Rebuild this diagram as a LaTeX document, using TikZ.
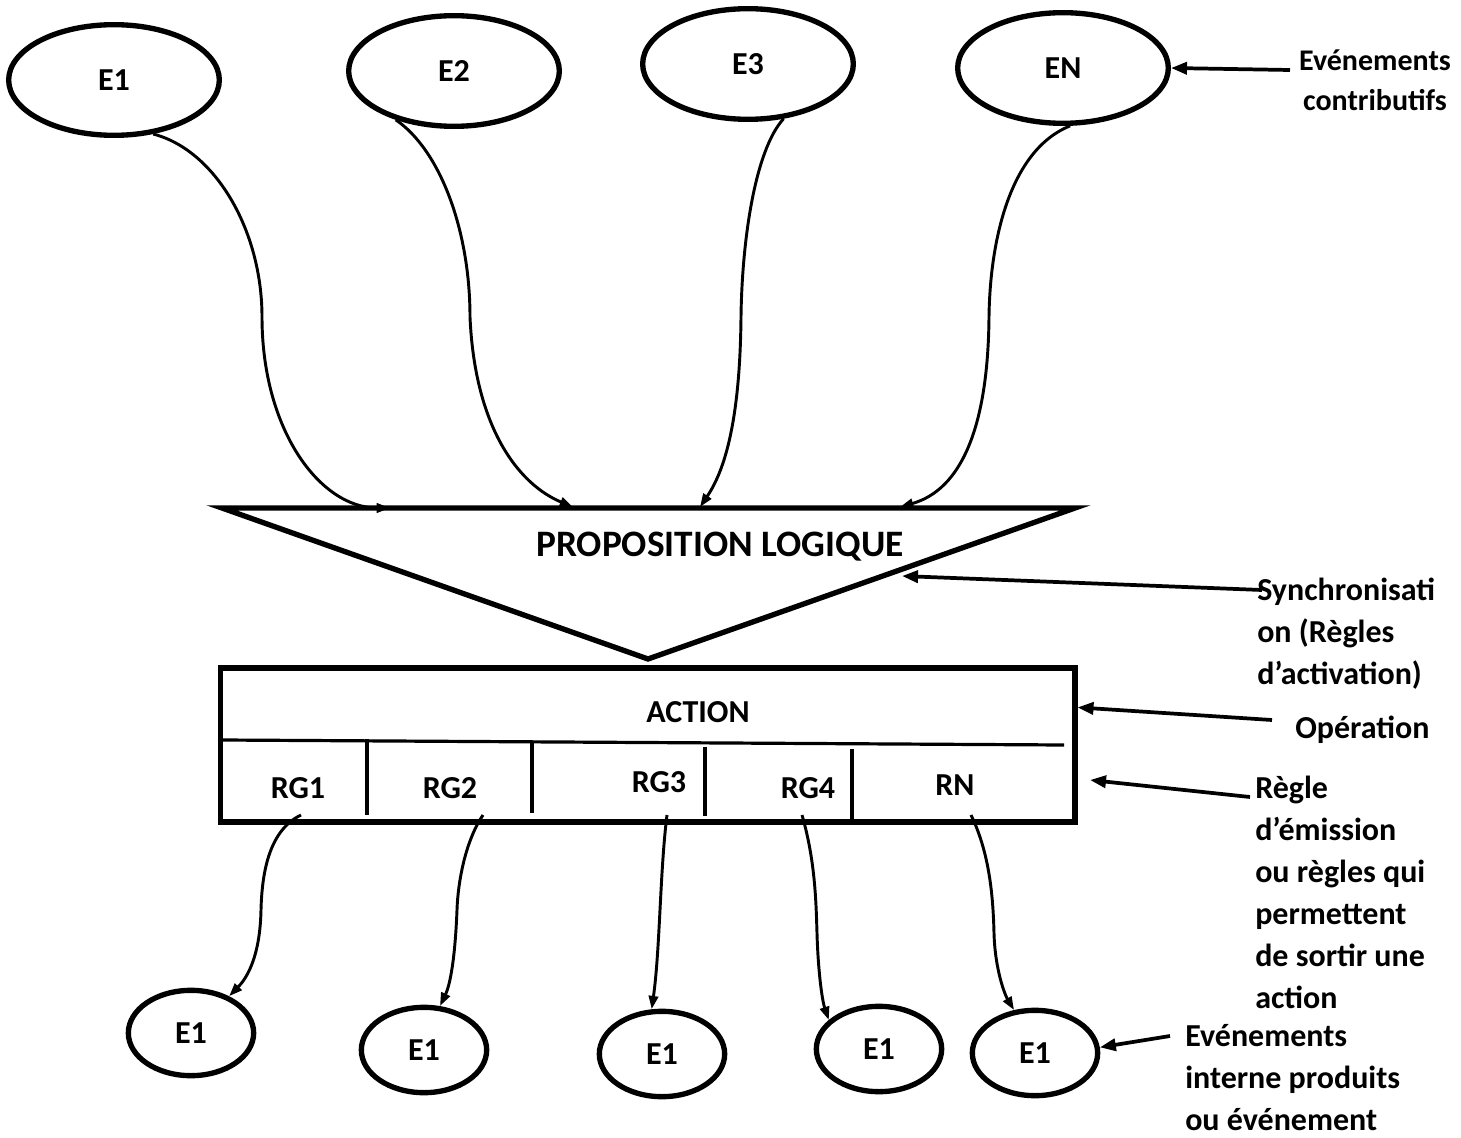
\documentclass[tikz,border=0pt]{standalone}
\usepackage{fontspec}
\setmainfont{Carlito}
\usetikzlibrary{shapes.geometric,arrows.meta,positioning}
\tikzset{
  evt/.style={ellipse,draw,line width=4pt,inner sep=0pt,minimum width=158pt,minimum height=83pt},
  evtout/.style={ellipse,draw,line width=4pt,inner sep=0pt,minimum width=94pt,minimum height=64pt},
  flow/.style={line width=2.2pt,-{Triangle[length=10pt,width=7pt]}},
  note/.style={line width=2.8pt,-{Triangle[length=12pt,width=9pt]}},
  lbl/.style={align=left,inner sep=0pt}
}
\begin{document}
\begin{tikzpicture}[x=.75pt,y=-.75pt,font=\fontsize{24}{31.5}\selectfont\bfseries]
\useasboundingbox (0,0) rectangle (1461,1138);
\node[evt] (e1) at (114,80) {E1};
\node[evt] (e2) at (454,71) {E2};
\node[evt] (e3) at (748,64) {E3};
\node[evt] (en) at (1063,68) {EN};
\coordinate (tl) at (222,508);
\coordinate (tr) at (1075,508);
\coordinate (tb) at (648,659);
\draw[line width=4pt] (tl) -- (tr) -- (tb) -- cycle;
\node[font=\fontsize{28}{34}\selectfont\bfseries] (prop) at (720,547) {PROPOSITION LOGIQUE};
\node[draw,line width=4pt,minimum width=641pt,minimum height=115.5pt] (act) at (647.5,745) {};
\node (action) at (698,712) {ACTION};
\draw[line width=2.4pt] (222,740) -- (1064,745);
\foreach \x/\a/\b in {367/739/815,532/743/813,705/747/816,852/749/822}
  \draw[line width=2.4pt] (\x,\a) -- (\x,\b);
\foreach \n/\x/\y in {1/298/788,2/450/788,3/659/782,4/808/788}
  \node (rg\n) at (\x,\y) {RG\n};
\node (rn) at (955,785) {RN};
\foreach \n/\x/\y in {1/191/1033,2/424/1050,3/662/1054,4/879/1049,5/1035/1053}
  \node[evtout] (b\n) at (\x,\y) {E1};
\coordinate (t1) at (390,508);
\coordinate (t2) at (573,507);
\coordinate (t3) at (700,507);
\coordinate (t4) at (900,507);
\draw[flow] (e1.-54) .. controls (215,150) and (262,230) .. (262,317) .. controls (262,430) and (320,508) .. (t1);
\draw[flow] (e2.-140) .. controls (440,150) and (470,230) .. (470,317) .. controls (475,430) and (520,485) .. (t2);
\draw[flow] (e3.-57) .. controls (755,150) and (742,240) .. (741,317) .. controls (740,420) and (725,470) .. (t3);
\draw[flow] (en.-83) .. controls (1010,150) and (990,240) .. (989,317) .. controls (988,430) and (960,490) .. (t4);
\coordinate (r1) at (301,815);
\coordinate (r2) at (483,815);
\coordinate (r3) at (667,815);
\coordinate (r4) at (802,815);
\coordinate (r5) at (971,815);
\draw[flow] (r1) .. controls (270,830) and (262,870) .. (261,910) .. controls (260,960) and (245,980) .. (b1.44);
\draw[flow] (r2) .. controls (466,840) and (458,880) .. (457,910) .. controls (455,960) and (450,985) .. (b2.70);
\draw[flow] (r3) .. controls (660,870) and (660,950) .. (b3.103);
\draw[flow] (r4) .. controls (815,860) and (816,900) .. (817,933) .. controls (818,970) and (822,1000) .. (b4.150);
\draw[flow] (r5) .. controls (988,850) and (993,890) .. (994,933) .. controls (995,970) and (1005,995) .. (b5.116);
\node[align=center,inner sep=0pt,font=\fontsize{22.5}{30}\selectfont\bfseries] (lcon) at (1375,80) {Evénements\\contributifs};
\node[lbl,anchor=north west] (lsync) at (1257,578) {Synchronisati\\on (Règles\\d’activation)};
\node[lbl,anchor=west] (lop) at (1295,730) {Opération};
\node[lbl,anchor=north west] (lrg) at (1255,776) {Règle\\d’émission\\ou règles qui\\permettent\\de sortir une\\action};
\node[lbl,anchor=north west] (lint) at (1185,1024) {Evénements\\interne produits\\ou événement};
\coordinate (a1) at (1290,70);
\coordinate (a2) at (1262,590);
\coordinate (a3) at (1272,720);
\coordinate (a4) at (1250,797);
\coordinate (a5) at (1170,1036);
\coordinate (s) at (902,576);
\coordinate (r) at (1090,780);
\draw[note] (a1) -- (en.east);
\draw[note] (a2) -- (s);
\draw[note] (a3) -- (act.5);
\draw[note] (a4) -- (r);
\draw[note] (a5) -- (b5.5);
\end{tikzpicture}
\end{document}
